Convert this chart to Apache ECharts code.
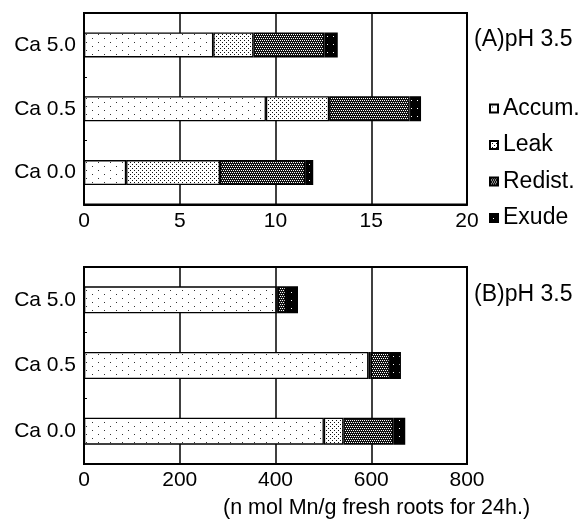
<!DOCTYPE html>
<html>
<head>
<meta charset="utf-8">
<script src="https://cdn.jsdelivr.net/npm/echarts@6/dist/echarts.min.js"></script>
<style>
html,body{margin:0;padding:0;background:#fff;}
#chart{width:585px;height:523px;}
</style>
</head>
<body>
<div id="chart"></div>
<script>
// ---- data ----
const categories = ['Ca 0.0', 'Ca 0.5', 'Ca 5.0'];
const seriesNames = ['Accum.', 'Leak', 'Redist.', 'Exude'];
// Panel A (segment sizes, stacked)
const accumA  = [2.2, 9.5, 6.75];
const leakA   = [4.9, 3.3, 2.1];
const redistA = [4.45, 4.2, 3.7];
const exudeA  = [0.42, 0.6, 0.7];
// Panel B (segment sizes, stacked)
const accumB  = [501, 594, 402];
const leakB   = [41, 5, 3];
const redistB = [104, 40, 17];
const exudeB  = [25, 23, 25];
const ticksA = [0, 5, 10, 15, 20];
const ticksB = [0, 200, 400, 600, 800];
const titleA = '(A)pH 3.5';
const titleB = '(B)pH 3.5';
const unitLabel = '(n mol Mn/g fresh roots for 24h.)';

// ---- patterns ----
function makePattern(w, h, bg, fg, pts) {
  const c = document.createElement('canvas');
  c.width = w; c.height = h;
  const ctx = c.getContext('2d');
  ctx.fillStyle = bg; ctx.fillRect(0, 0, w, h);
  ctx.fillStyle = fg;
  pts.forEach(p => ctx.fillRect(p[0], p[1], 1, 1));
  return { image: c, repeat: 'repeat' };
}
const patterns = [
  makePattern(12, 8, '#ffffff', '#333333', [[2, 2], [8, 6]]),
  makePattern(4, 4, '#ffffff', '#111111', [[0, 0], [2, 2]]),
  makePattern(4, 4, '#111111', '#ffffff', [[0, 0], [2, 0], [1, 2], [3, 2]]),
  makePattern(6, 8, '#000000', '#ffffff', [[3, 4]])
];

const FONT = 'Liberation Sans, Arial, Helvetica, sans-serif';
const dataA = [accumA, leakA, redistA, exudeA];
const dataB = [accumB, leakB, redistB, exudeB];

const series = [];
seriesNames.forEach((name, i) => {
  series.push({
    name: name, type: 'bar', stack: 'A', xAxisIndex: 0, yAxisIndex: 0,
    data: dataA[i], barWidth: 25,
    itemStyle: { color: patterns[i], borderColor: '#000', borderWidth: 1.3 },
    emphasis: { disabled: true }
  });
});
seriesNames.forEach((name, i) => {
  series.push({
    name: name, type: 'bar', stack: 'B', xAxisIndex: 1, yAxisIndex: 1,
    data: dataB[i], barWidth: 27,
    itemStyle: { color: patterns[i], borderColor: '#000', borderWidth: 1.3 },
    emphasis: { disabled: true }
  });
});

function xAxis(gridIndex, ticks) {
  return {
    type: 'value', gridIndex: gridIndex,
    min: ticks[0], max: ticks[ticks.length - 1], interval: ticks[1] - ticks[0],
    axisLine: { show: true, lineStyle: { color: '#000', width: 2 } },
    axisTick: { show: false },
    splitLine: { show: true, lineStyle: { color: '#000', width: 1.5 } },
    axisLabel: { color: '#000', fontSize: 21, fontFamily: FONT, margin: 6 }
  };
}
function yAxis(gridIndex) {
  return {
    type: 'category', gridIndex: gridIndex, data: categories,
    axisLine: { show: true, lineStyle: { color: '#000', width: 2 } },
    axisTick: { show: true, inside: true, length: 3, lineStyle: { color: '#000', width: 1 } },
    axisLabel: { color: '#000', fontSize: 21, fontFamily: FONT, margin: 8 }
  };
}

const chart = echarts.init(document.getElementById('chart'), null, { renderer: 'canvas' });
chart.setOption({
  animation: false,
  backgroundColor: '#fff',
  grid: [
    { left: 84, right: 118, top: 13, height: 191.5, show: true, borderColor: '#000', borderWidth: 2, backgroundColor: 'transparent' },
    { left: 84, right: 118, top: 267, height: 197, show: true, borderColor: '#000', borderWidth: 2, backgroundColor: 'transparent' }
  ],
  xAxis: [xAxis(0, ticksA), xAxis(1, ticksB)],
  yAxis: [yAxis(0), yAxis(1)],
  legend: {
    data: seriesNames, orient: 'vertical', left: 489, top: 97,
    itemWidth: 8, itemHeight: 8, itemGap: 13.5, padding: 0,
    icon: 'rect',
    textStyle: { color: '#000', fontSize: 23, fontFamily: FONT, lineHeight: 23 },
    selectedMode: false
  },
  title: [
    { text: titleA, left: 474, top: 28, padding: 0, textStyle: { color: '#000', fontSize: 23, fontWeight: 'normal', fontFamily: FONT } },
    { text: titleB, left: 474, top: 283, padding: 0, textStyle: { color: '#000', fontSize: 23, fontWeight: 'normal', fontFamily: FONT } },
    { text: unitLabel, left: 223, top: 497, padding: 0, textStyle: { color: '#000', fontSize: 21.5, fontWeight: 'normal', fontFamily: FONT } }
  ],
  series: series
});
</script>
</body>
</html>
